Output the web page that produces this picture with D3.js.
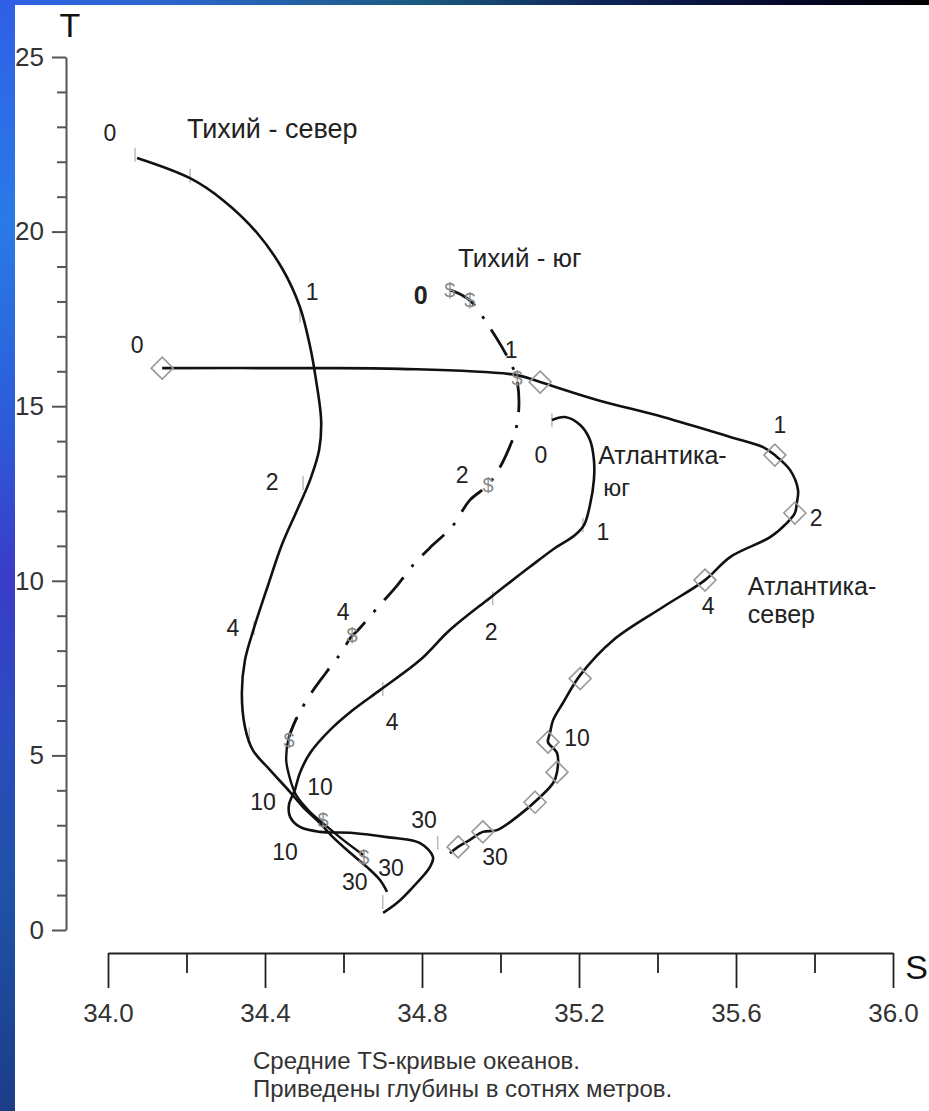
<!DOCTYPE html>
<html><head><meta charset="utf-8">
<script src="https://cdn.jsdelivr.net/npm/d3@7"></script>
<style>body{margin:0;background:#fff}svg{display:block}</style>
</head><body>
<svg id="c" width="929" height="1111"></svg>
<script>
// ---------- data ----------
const sDomain = [34, 36];
const tDomain = [0, 25];
const sMajorTicks = [34.0, 34.4, 34.8, 35.2, 35.6, 36.0];
const sMinorTicks = [34.2, 34.6, 35.0, 35.4, 35.8];
const tMajorTicks = [0, 5, 10, 15, 20, 25];
const tMinorTicks = [1,2,3,4,6,7,8,9,11,12,13,14,16,17,18,19,21,22,23,24];

// [S, T]
const pacificNorth = [
  [34.074,22.11],[34.209,21.53],[34.293,20.90],[34.380,19.96],[34.446,18.90],
  [34.489,17.84],[34.515,16.70],[34.530,15.75],[34.543,14.60],[34.538,13.75],
  [34.515,12.89],[34.482,12.03],[34.443,11.03],[34.408,9.88],[34.372,8.65],
  [34.349,7.73],[34.341,6.79],[34.349,5.81],[34.369,5.15],[34.413,4.58],
  [34.464,3.95],[34.497,3.52],[34.540,3.06],[34.573,2.66],[34.617,2.21],
  [34.660,1.80],[34.693,1.43],[34.711,1.09]
];
const pacificSouth = [
  [34.871,18.33],[34.902,18.18],[34.927,17.98],[34.968,17.33],[35.011,16.55],
  [35.032,16.09],[35.042,15.75],[35.047,15.03],[35.039,14.32],[35.022,13.80],
  [34.999,13.26],[34.968,12.74],[34.922,12.31],[34.876,11.54],[34.828,11.03],
  [34.782,10.51],[34.731,9.79],[34.688,9.25],[34.642,8.65],[34.617,8.36],
  [34.599,8.02],[34.555,7.36],[34.520,6.82],[34.482,6.10],[34.461,5.53],
  [34.454,4.87],[34.461,4.44],[34.479,3.87],[34.515,3.38],[34.553,3.01],
  [34.599,2.58],[34.650,2.15]
];
const pacificSouthSolidBelowT = 5.6;
const atlanticSouth = [
  [35.131,14.60],[35.164,14.69],[35.203,14.46],[35.228,14.03],[35.238,13.46],
  [35.238,12.89],[35.228,12.17],[35.213,11.60],[35.190,11.31],[35.139,10.94],
  [35.075,10.40],[34.973,9.51],[34.871,8.59],[34.795,7.73],[34.693,6.87],
  [34.624,6.30],[34.566,5.73],[34.515,5.07],[34.489,4.50],[34.476,4.01],
  [34.461,3.58],[34.464,3.24],[34.489,2.95],[34.540,2.81],[34.624,2.78],
  [34.711,2.66],[34.795,2.49],[34.828,2.09],[34.820,1.80],[34.777,1.23],
  [34.736,0.77],[34.701,0.49]
];
const atlanticNorth = [
  [34.138,16.09],[34.489,16.09],[34.744,16.07],[35.042,15.89],[35.101,15.69],
  [35.246,15.18],[35.414,14.69],[35.585,14.12],[35.669,13.83],[35.699,13.60],
  [35.738,13.17],[35.758,12.60],[35.755,12.23],[35.750,11.94],[35.730,11.66],
  [35.687,11.25],[35.585,10.68],[35.521,10.02],[35.414,9.25],[35.287,8.30],
  [35.203,7.30],[35.159,6.50],[35.134,6.01],[35.126,5.64],[35.121,5.38],
  [35.144,5.07],[35.144,4.52],[35.134,4.21],[35.101,3.81],[35.042,3.24],
  [34.991,2.86],[34.955,2.81],[34.922,2.58],[34.892,2.38],[34.871,2.20]
];
const atlanticNorthMarkers = [
  [34.138,16.09],[35.101,15.69],[35.699,13.60],[35.750,11.94],[35.521,10.02],
  [35.203,7.20],[35.121,5.38],[35.144,4.52],[35.088,3.66],[34.955,2.81],[34.892,2.38]
];
const pacificSouthMarkers = [
  [34.871,18.33],[34.922,18.04],[35.042,15.81],[34.968,12.74],[34.622,8.45],
  [34.461,5.44],[34.548,3.15],[34.652,2.10]
];
const pacificNorthTicks = [
  [34.069,22.20],[34.209,21.60],[34.489,17.60],[34.497,12.80],[34.372,8.65],
  [34.360,5.60],[34.424,3.70],[34.700,0.80]
];
const atlanticSouthTicks = [
  [35.131,14.60],[35.210,11.60],[34.980,9.50],[34.700,6.90],[34.840,2.50]
];
// depth labels (hundreds of metres)
const depthLabels = [
  ["0",34.005,22.82],["1",34.520,18.27],["2",34.418,12.83],["4",34.318,8.65],["10",34.395,3.67],["30",34.629,1.37],
  ["0",34.797,18.18],["1",35.027,16.61],["2",34.902,13.03],["4",34.599,9.11],["10",34.540,4.10],["30",34.721,1.78],
  ["0",35.103,13.60],["1",35.261,11.40],["2",34.976,8.53],["4",34.724,5.96],["10",34.451,2.23],["30",34.805,3.15],
  ["0",34.074,16.75],["1",35.712,14.46],["2",35.804,11.80],["4",35.529,9.28],["10",35.195,5.50],["30",34.986,2.09]
];
const boldLabelIndex = 6;
// ocean names: text, S (left), T (baseline)
const oceanLabels = [
  ["Тихий - север",34.201,22.68],
  ["Тихий - юг",34.892,18.99],
  ["Атлантика-",35.249,13.35],
  ["юг",35.262,12.42],
  ["Атлантика-",35.630,9.60],
  ["север",35.630,8.80]
];
const captionLines = ["Средние TS-кривые океанов.", "Приведены глубины в сотнях метров."];
const axisTitleT = "T";
const axisTitleS = "S";

// ---------- drawing ----------
const W = 929, H = 1111;
const svg = d3.select("#c");
const FONT = "'Liberation Sans', Arial, sans-serif";
const x = d3.scaleLinear().domain(sDomain).range([108, 893]);
const y = d3.scaleLinear().domain(tDomain).range([930, 57]);

const defs = svg.append("defs");
const gl = defs.append("linearGradient").attr("id","gl").attr("x1",0).attr("y1",0).attr("x2",0).attr("y2",1);
[["0","#2f5fe6"],["0.2","#2a7ae8"],["0.38","#2c5cd8"],["0.52","#3a3cc8"],["0.65","#2c4cc0"],["0.8","#1f52a8"],["1","#1c3d88"]]
  .forEach(d=>gl.append("stop").attr("offset",d[0]).attr("stop-color",d[1]));
const gt = defs.append("linearGradient").attr("id","gt").attr("x1",0).attr("y1",0).attr("x2",1).attr("y2",0);
[["0","#2f62e6"],["0.2","#2a66c8"],["0.45","#1a5a80"],["0.65","#0e2458"],["0.85","#06082a"],["1","#000000"]]
  .forEach(d=>gt.append("stop").attr("offset",d[0]).attr("stop-color",d[1]));

svg.append("rect").attr("width",W).attr("height",H).attr("fill","#fff");
svg.append("rect").attr("x",0).attr("y",0).attr("width",W).attr("height",5).attr("fill","url(#gt)");
svg.append("rect").attr("x",0).attr("y",0).attr("width",15).attr("height",H).attr("fill","url(#gl)");

// Y axis
const yAxisG = svg.append("g").attr("transform","translate(66,0)");
yAxisG.call(d3.axisLeft(y).tickValues(tMajorTicks).tickSize(14).tickSizeOuter(0).tickPadding(8).tickFormat(d3.format("d")));
const yMinor = svg.append("g").attr("transform","translate(66,0)");
yMinor.call(d3.axisLeft(y).tickValues(tMinorTicks).tickSize(9).tickSizeOuter(0).tickFormat(""));
yMinor.select(".domain").remove();
[yAxisG, yMinor].forEach(g=>{
  g.selectAll("path,line").attr("stroke","#555").attr("stroke-width",2);
});
yAxisG.selectAll("text").attr("font-family",FONT).attr("font-size",26).attr("fill","#333");

// X axis
const xAxisG = svg.append("g").attr("transform","translate(0,953)");
xAxisG.call(d3.axisBottom(x).tickValues(sMajorTicks).tickSize(35).tickSizeOuter(0).tickPadding(16).tickFormat(d3.format(".1f")));
const xMinor = svg.append("g").attr("transform","translate(0,953)");
xMinor.call(d3.axisBottom(x).tickValues(sMinorTicks).tickSize(20).tickSizeOuter(0).tickFormat(""));
xMinor.select(".domain").remove();
[xAxisG, xMinor].forEach(g=>{
  g.selectAll("path,line").attr("stroke","#222").attr("stroke-width",1.8);
});
xAxisG.selectAll("text").attr("font-family",FONT).attr("font-size",26).attr("fill","#333");

// axis titles
svg.append("text").attr("x",70).attr("y",37).attr("text-anchor","middle")
  .attr("font-family",FONT).attr("font-size",34).attr("fill","#111").text(axisTitleT);
svg.append("text").attr("x",928).attr("y",979).attr("text-anchor","end")
  .attr("font-family",FONT).attr("font-size",34).attr("fill","#111").text(axisTitleS);

// curves
const line = d3.line().x(d=>x(d[0])).y(d=>y(d[1])).curve(d3.curveCatmullRom.alpha(0.5));
const plot = svg.append("g");

// faint tick markers
plot.selectAll(".ft").data(pacificNorthTicks.concat(atlanticSouthTicks)).join("line")
  .attr("x1",d=>x(d[0])).attr("x2",d=>x(d[0]))
  .attr("y1",d=>y(d[1])-7).attr("y2",d=>y(d[1])+7)
  .attr("stroke","#bbb").attr("stroke-width",1.5);

plot.append("path").attr("d",line(pacificNorth)).attr("fill","none").attr("stroke","#111").attr("stroke-width",2.6);
plot.append("path").attr("d",line(atlanticSouth)).attr("fill","none").attr("stroke","#111").attr("stroke-width",2.6);
plot.append("path").attr("d",line(atlanticNorth)).attr("fill","none").attr("stroke","#111").attr("stroke-width",2.6);

const splitIdx = pacificSouth.findIndex(d=>d[1] < pacificSouthSolidBelowT);
plot.append("path").attr("d",line(pacificSouth.slice(0, splitIdx+1))).attr("fill","none")
  .attr("stroke","#111").attr("stroke-width",2.8).attr("stroke-dasharray","30,13,3,13");
plot.append("path").attr("d",line(pacificSouth.slice(splitIdx-1))).attr("fill","none")
  .attr("stroke","#111").attr("stroke-width",2.4);

// diamonds (Atlantic north)
plot.selectAll(".dm").data(atlanticNorthMarkers).join("path")
  .attr("transform",d=>`translate(${x(d[0])},${y(d[1])})`)
  .attr("d","M0,-11L11,0L0,11L-11,0Z").attr("fill","none").attr("stroke","#999").attr("stroke-width",1.6);

// $ markers (Pacific south)
plot.selectAll(".dl").data(pacificSouthMarkers).join("text")
  .attr("x",d=>x(d[0])).attr("y",d=>y(d[1])+7).attr("text-anchor","middle")
  .attr("font-family",FONT).attr("font-size",20).attr("fill","#888").text("$");

// depth labels
svg.selectAll(".depth").data(depthLabels).join("text")
  .attr("x",d=>x(d[1])).attr("y",d=>y(d[2])).attr("dy","0.36em").attr("text-anchor","middle")
  .attr("font-family",FONT).attr("font-size",(d,i)=>i===boldLabelIndex?25:23)
  .attr("font-weight",(d,i)=>i===boldLabelIndex?"bold":"normal")
  .attr("fill","#222").text(d=>d[0]);

// ocean labels
svg.selectAll(".ocean").data(oceanLabels).join("text")
  .attr("x",d=>x(d[1])).attr("y",d=>y(d[2]))
  .attr("font-family",FONT)
  .attr("font-size",(d,i)=>i===0?27:(i===3?24:(i===1?26:25)))
  .attr("fill","#222").text(d=>d[0]);

// caption
svg.selectAll(".cap").data(captionLines).join("text")
  .attr("x",253).attr("y",(d,i)=>1069+i*28)
  .attr("font-family",FONT).attr("font-size",24).attr("fill","#333").text(d=>d);
</script>
</body></html>
